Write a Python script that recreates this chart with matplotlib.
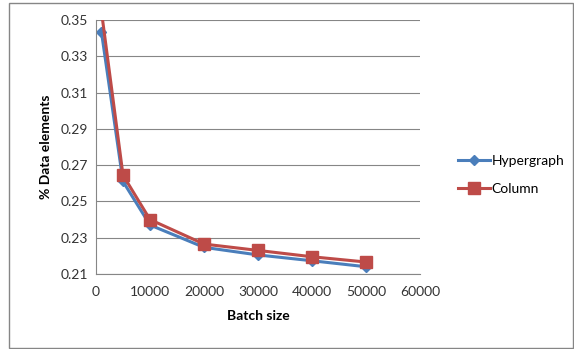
import matplotlib
matplotlib.use("Agg")
import matplotlib.pyplot as plt
from matplotlib.patches import Rectangle

batch = [1000, 5000, 10000, 20000, 30000, 40000, 50000]
hypergraph = [0.3436, 0.261, 0.237, 0.2247, 0.2205, 0.2173, 0.214]
column = [0.355, 0.2645, 0.240, 0.2265, 0.223, 0.2195, 0.2166]
xticks = [0, 10000, 20000, 30000, 40000, 50000, 60000]
yticks = [0.21, 0.23, 0.25, 0.27, 0.29, 0.31, 0.33, 0.35]

plt.rcParams['font.family'] = ['Lato', 'DejaVu Sans']

fig = plt.figure(figsize=(5.74, 3.49), dpi=100)
fig.patches.append(Rectangle((9/574, 1/349), 564/574, 345/349, transform=fig.transFigure,
                             fill=False, edgecolor='#868686', linewidth=1.0))

ax = fig.add_axes([96/574, 75/349, 324/574, 254/349])
ax.plot(batch, hypergraph, color='#4a7ebb', linewidth=2.2, marker='D', markersize=5,
        label='Hypergraph', clip_on=True)
ax.plot(batch, column, color='#be4b48', linewidth=2.2, marker='s', markersize=8,
        label='Column', clip_on=True)

ax.set_xlim(0, 60000)
ax.set_ylim(0.21, 0.35)
ax.set_xticks(xticks)
ax.set_yticks(yticks)
ax.set_xticklabels([str(v) for v in xticks])
ax.set_yticklabels(['%.2f' % v for v in yticks])
ax.grid(axis='y', color='#868686', linewidth=0.8)
ax.set_axisbelow(True)
for s in ['top', 'right']:
    ax.spines[s].set_visible(False)
for s in ['left', 'bottom']:
    ax.spines[s].set_color('#868686')
ax.tick_params(axis='both', labelsize=10, colors='#333333', length=0, pad=6)
ax.tick_params(axis='x', pad=9)
ax.set_xlabel('Batch size', fontsize=10, fontweight='bold', labelpad=8)
ax.set_ylabel('% Data elements', fontsize=10, fontweight='bold', labelpad=6)

leg = ax.legend(loc='center left', bbox_to_anchor=(1.08, 0.39), frameon=False,
                fontsize=10, handlelength=2.3, handletextpad=0.1, labelspacing=1.2)
fig.savefig('out.png', dpi=100)
